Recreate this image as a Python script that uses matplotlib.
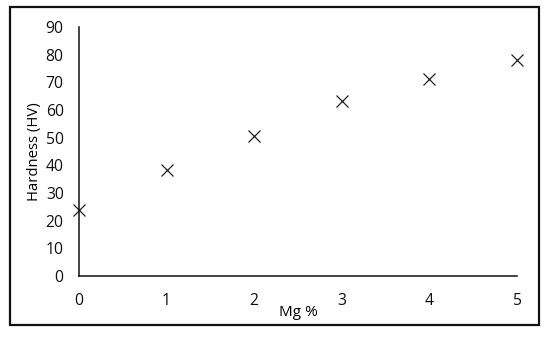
import matplotlib.pyplot as plt
from matplotlib.patches import Rectangle

mg = [0, 1, 2, 3, 4, 5]
hardness = [23.9, 38.3, 50.6, 63.3, 71.2, 78.1]
yticks = [0, 10, 20, 30, 40, 50, 60, 70, 80, 90]

plt.rcParams['font.family'] = ['Open Sans', 'DejaVu Sans']

fig = plt.figure(figsize=(5.5, 3.37), dpi=100)
ax = fig.add_axes([79 / 550, 61 / 337, 438 / 550, 249 / 337])

ax.plot(mg, hardness, linestyle='none', marker='x', markersize=9,
        markeredgewidth=0.9, color='#222222', clip_on=False)

ax.set_xlim(0, 5)
ax.set_ylim(0, 90)
ax.set_yticks(yticks)
ax.set_xticks(mg)
ax.tick_params(length=0, labelsize=11.3, colors='#111111')
ax.tick_params(axis='y', pad=11)
ax.tick_params(axis='x', pad=12)
for s in ['top', 'right']:
    ax.spines[s].set_visible(False)
for s in ['left', 'bottom']:
    ax.spines[s].set_linewidth(1.1)
    ax.spines[s].set_color('#111111')

ax.set_xlabel('Mg %', fontsize=11, labelpad=-3)
ax.set_ylabel('Hardness (HV)', fontsize=10.7, labelpad=3)

fig.patches.append(Rectangle((10 / 550, 12 / 337), 529 / 550, 318 / 337,
                             transform=fig.transFigure, fill=False,
                             linewidth=1.6, edgecolor='#111111'))

fig.savefig('out.png', dpi=100)
